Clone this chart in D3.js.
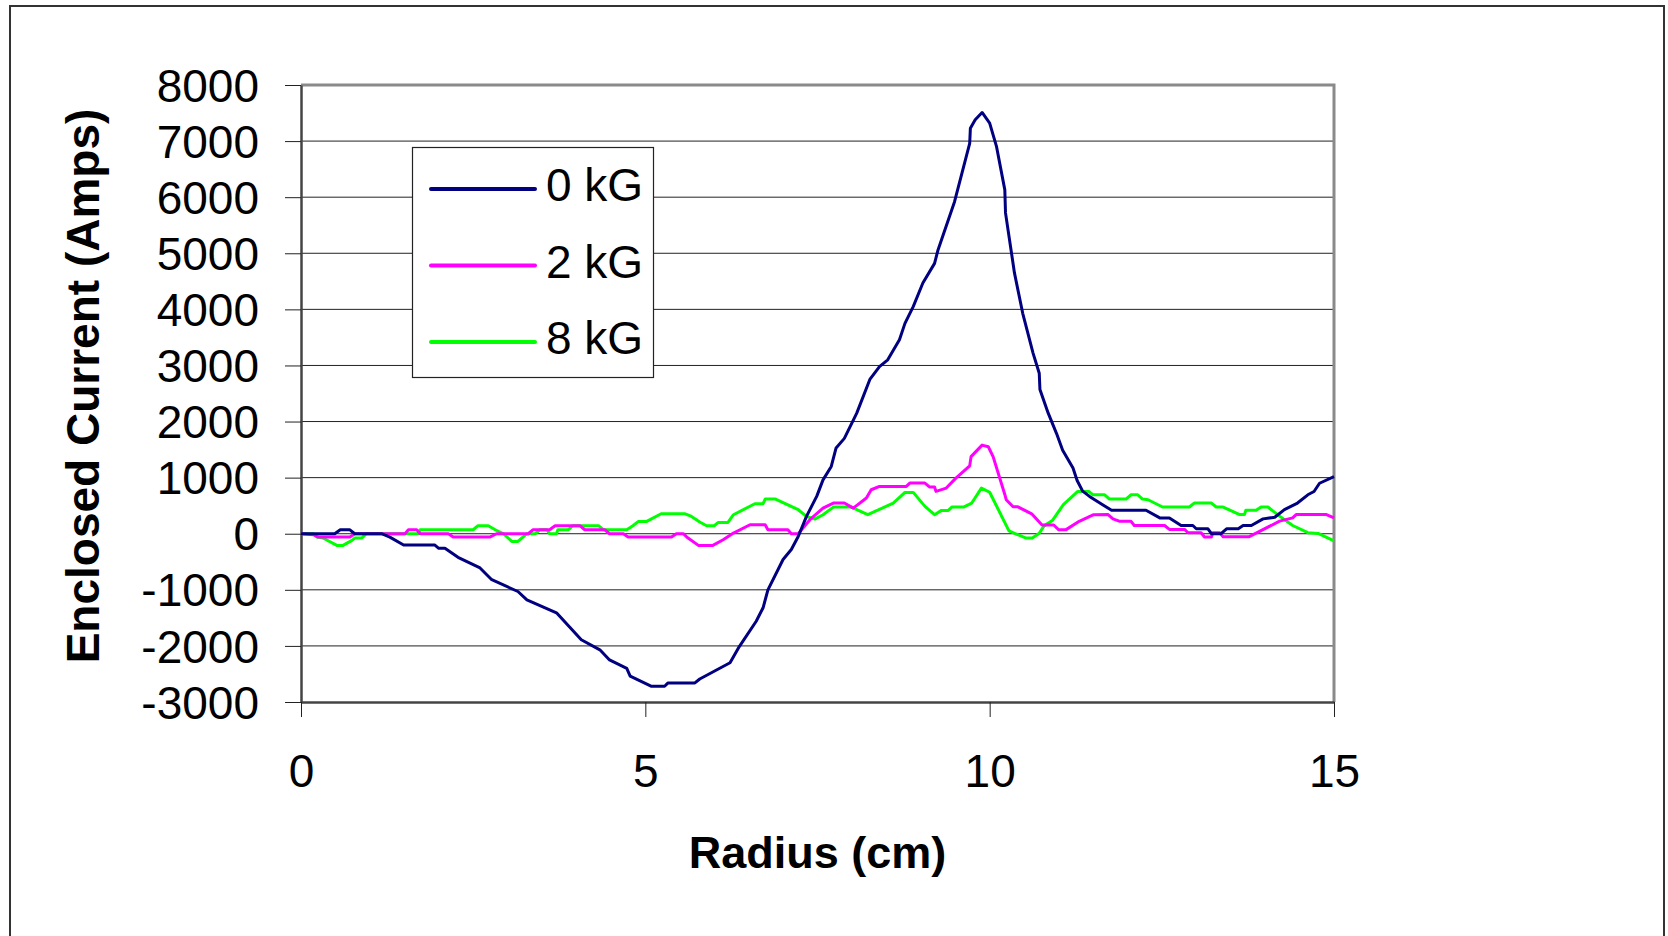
<!DOCTYPE html>
<html>
<head>
<meta charset="utf-8">
<script src="https://cdn.jsdelivr.net/npm/d3@7"></script>
<style>
    body { margin: 0; background: #fff; }
    svg { display: block; font-family: "Liberation Sans", Arial, sans-serif; }
</style>
</head>
<body>
<svg id="chart" width="1668" height="936"></svg>
<script>
// radius (cm) and enclosed current (A)
const radius0 = [0, 0.49, 0.57, 0.71, 0.78, 1.17, 1.29, 1.49, 1.94, 2.0, 2.09, 2.28, 2.6, 2.77, 3.15, 3.28, 3.71, 4.07, 4.34, 4.48, 4.73, 4.78, 5.09, 5.28, 5.33, 5.72, 5.79, 6.23, 6.35, 6.61, 6.71, 6.78, 7.0, 7.12, 7.22, 7.34, 7.49, 7.58, 7.70, 7.77, 7.89, 8.07, 8.26, 8.40, 8.52, 8.69, 8.77, 8.89, 9.03, 9.20, 9.25, 9.49, 9.71, 9.72, 9.79, 9.89, 10.0, 10.10, 10.22, 10.23, 10.36, 10.48, 10.63, 10.72, 10.73, 10.85, 10.97, 11.06, 11.21, 11.27, 11.35, 11.45, 11.64, 11.77, 12.27, 12.47, 12.61, 12.78, 12.95, 13.00, 13.17, 13.22, 13.36, 13.44, 13.61, 13.68, 13.80, 13.97, 14.14, 14.28, 14.47, 14.62, 14.71, 14.79, 15.0];
const current0 = [0, 0, 70, 70, 0, 0, -60, -200, -200, -260, -260, -420, -610, -820, -1030, -1180, -1410, -1890, -2070, -2250, -2400, -2540, -2720, -2720, -2660, -2660, -2590, -2300, -2040, -1560, -1320, -1000, -460, -280, -50, 310, 670, 960, 1200, 1530, 1700, 2150, 2750, 2980, 3100, 3460, 3750, 4050, 4470, 4820, 5060, 5920, 6960, 7230, 7380, 7510, 7320, 6900, 6130, 5720, 4650, 3930, 3220, 2860, 2570, 2150, 1790, 1490, 1170, 950, 760, 665, 518, 418, 418, 282, 282, 147, 147, 88, 88, 0, 0, 88, 88, 147, 147, 265, 294, 429, 547, 694, 753, 900, 1018];

const radius2 = [0, 0.18, 0.25, 0.71, 0.78, 1.51, 1.56, 1.68, 1.73, 2.14, 2.21, 2.74, 2.84, 3.30, 3.37, 3.61, 3.69, 4.05, 4.12, 4.41, 4.48, 4.68, 4.75, 5.38, 5.45, 5.55, 5.62, 5.77, 5.98, 6.13, 6.28, 6.52, 6.74, 6.78, 7.07, 7.12, 7.22, 7.39, 7.58, 7.73, 7.89, 8.02, 8.21, 8.28, 8.40, 8.79, 8.84, 9.06, 9.13, 9.20, 9.22, 9.37, 9.51, 9.71, 9.73, 9.89, 9.98, 10.05, 10.22, 10.24, 10.34, 10.41, 10.61, 10.76, 10.93, 11.0, 11.11, 11.30, 11.51, 11.72, 11.79, 11.88, 12.05, 12.10, 12.54, 12.61, 12.83, 12.88, 13.07, 13.12, 13.22, 13.24, 13.34, 13.39, 13.77, 14.21, 14.40, 14.45, 14.89, 15.0];
const current2 = [0, -18, -59, -59, 0, 0, 71, 71, 0, 0, -59, -59, 0, 0, 71, 71, 143, 143, 71, 71, 0, 0, -59, -59, 0, 0, -77, -208, -208, -107, 12, 160, 160, 71, 71, 0, 0, 250, 457, 547, 547, 457, 636, 784, 844, 844, 903, 903, 832, 832, 755, 814, 992, 1210, 1375, 1580, 1550, 1375, 700, 606, 480, 480, 355, 155, 155, 73, 73, 222, 340, 341, 265, 224, 224, 147, 147, 76, 76, 18, 18, -59, -59, 18, 18, -53, -53, 224, 282, 341, 341, 282];

const radius8 = [0, 0.18, 0.23, 0.32, 0.52, 0.61, 0.74, 0.78, 0.88, 0.95, 1.70, 1.73, 2.50, 2.57, 2.72, 2.82, 2.94, 3.06, 3.15, 3.28, 3.40, 3.47, 3.57, 3.61, 3.71, 3.73, 3.88, 3.95, 4.32, 4.39, 4.73, 4.82, 4.90, 5.02, 5.23, 5.57, 5.67, 5.79, 5.89, 6.0, 6.06, 6.20, 6.28, 6.59, 6.71, 6.74, 6.89, 7.22, 7.34, 7.46, 7.58, 7.73, 7.99, 8.23, 8.60, 8.77, 8.89, 9.06, 9.20, 9.30, 9.40, 9.45, 9.62, 9.74, 9.88, 10.0, 10.28, 10.52, 10.62, 10.72, 10.79, 10.91, 11.07, 11.28, 11.44, 11.50, 11.67, 11.74, 11.98, 12.05, 12.15, 12.22, 12.30, 12.51, 12.90, 12.97, 13.22, 13.29, 13.39, 13.63, 13.70, 13.72, 13.87, 13.94, 14.04, 14.18, 14.40, 14.62, 14.77, 15.0];
const current8 = [0, 0, -59, -77, -208, -208, -119, -77, -77, 0, 0, 71, 71, 143, 143, 71, 0, -137, -137, 0, 0, 71, 71, 0, 0, 71, 71, 143, 143, 71, 71, 143, 220, 220, 357, 357, 309, 210, 143, 143, 202, 202, 339, 535, 535, 618, 618, 428, 309, 261, 339, 475, 475, 339, 547, 737, 737, 487, 339, 416, 416, 475, 475, 547, 814, 740, 50, -75, -75, 8, 140, 235, 518, 755, 755, 694, 694, 618, 618, 694, 694, 618, 606, 476, 476, 547, 547, 476, 476, 341, 341, 418, 418, 476, 476, 341, 147, 18, 6, -129];

const seriesNames = ["0 kG", "2 kG", "8 kG"];
const seriesColors = ["#000080", "#ff00ff", "#00ff00"];
const xTicks = [0, 5, 10, 15];
const yTicks = [-3000, -2000, -1000, 0, 1000, 2000, 3000, 4000, 5000, 6000, 7000, 8000];

const svg = d3.select("#chart");
const plot = { left: 301, right: 1334, top: 85, bottom: 702 };

const x = d3.scaleLinear().domain([0, 15]).range([plot.left, plot.right]);
const y = d3.scaleLinear().domain([-3000, 8000]).range([plot.bottom, plot.top]);

// outer chart border
svg.append("rect")
    .attr("x", 10).attr("y", 6)
    .attr("width", 1654).attr("height", 960)
    .attr("fill", "#fff")
    .attr("stroke", "#333")
    .attr("stroke-width", 2);

// gridlines
svg.append("g")
    .selectAll("line")
    .data(yTicks.filter(d => d > -3000 && d < 8000))
    .join("line")
    .attr("x1", plot.left).attr("x2", plot.right)
    .attr("y1", d => y(d)).attr("y2", d => y(d))
    .attr("stroke", "#222")
    .attr("stroke-width", 1);

// top + right frame (grey)
svg.append("path")
    .attr("d", `M${plot.left},${plot.top}H${plot.right}V${plot.bottom}`)
    .attr("fill", "none")
    .attr("stroke", "#8a8a8a")
    .attr("stroke-width", 3);

// y axis
const yAxis = svg.append("g")
    .attr("transform", `translate(${plot.left},0)`)
    .call(d3.axisLeft(y).tickValues(yTicks).tickSize(16).tickSizeOuter(0).tickFormat(d => String(d)));
yAxis.select(".domain").attr("stroke", "#444").attr("stroke-width", 2.5);
yAxis.selectAll(".tick line").attr("stroke", "#222");
yAxis.selectAll(".tick text")
    .attr("x", -42)
    .attr("dy", "0.35em")
    .attr("fill", "#000")
    .style("font-size", "46px");

// x axis
const xAxis = svg.append("g")
    .attr("transform", `translate(0,${plot.bottom})`)
    .call(d3.axisBottom(x).tickValues(xTicks).tickSize(15).tickSizeOuter(0).tickFormat(d => String(d)));
xAxis.select(".domain").attr("stroke", "#444").attr("stroke-width", 2.5);
xAxis.selectAll(".tick line").attr("stroke", "#222");
xAxis.selectAll(".tick text")
    .attr("y", 85)
    .attr("dy", "0")
    .attr("fill", "#000")
    .style("font-size", "46px");

// axis titles
svg.append("text")
    .attr("x", (plot.left + plot.right) / 2)
    .attr("y", 868)
    .attr("text-anchor", "middle")
    .style("font-size", "45px")
    .style("font-weight", "bold")
    .text("Radius (cm)");

svg.append("text")
    .attr("transform", "translate(99,386) rotate(-90)")
    .attr("text-anchor", "middle")
    .style("font-size", "46px")
    .style("font-weight", "bold")
    .text("Enclosed Current (Amps)");

// series lines
const series = [
    { r: radius0, c: current0 },
    { r: radius2, c: current2 },
    { r: radius8, c: current8 }
];
const line = d3.line()
    .x(d => x(d[0]))
    .y(d => y(d[1]));

// draw 8 kG first, then 2 kG, navy on top
[2, 1, 0].forEach(i => {
    const pts = series[i].r.map((r, j) => [r, series[i].c[j]]);
    svg.append("path")
        .datum(pts)
        .attr("d", line)
        .attr("fill", "none")
        .attr("stroke", seriesColors[i])
        .attr("stroke-width", 3)
        .attr("stroke-linejoin", "round");
});

// legend
const legend = svg.append("g");
legend.append("rect")
    .attr("x", 412.5).attr("y", 147.5)
    .attr("width", 241).attr("height", 230)
    .attr("fill", "#fff")
    .attr("stroke", "#222")
    .attr("stroke-width", 1.2);

const legendY = d3.scalePoint().domain(seriesNames).range([189, 342]);
seriesNames.forEach((name, i) => {
    legend.append("line")
        .attr("x1", 431).attr("x2", 535)
        .attr("y1", legendY(name)).attr("y2", legendY(name))
        .attr("stroke", seriesColors[i])
        .attr("stroke-width", 4)
        .attr("stroke-linecap", "round");
    legend.append("text")
        .attr("x", 546)
        .attr("y", legendY(name) + 12)
        .style("font-size", "46px")
        .text(name);
});
</script>
</body>
</html>
